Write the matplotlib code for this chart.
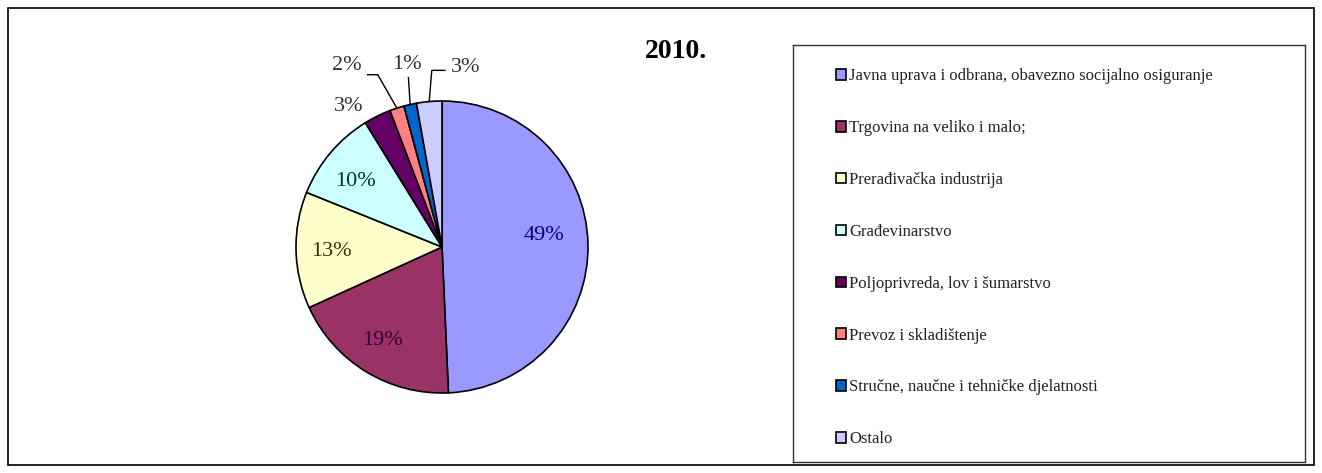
import numpy as np
import matplotlib
matplotlib.use('Agg')
from matplotlib import pyplot as plt
from matplotlib.patches import Rectangle

# Podaci
kategorije = ['Javna uprava i odbrana, obavezno socijalno osiguranje',
              'Trgovina na veliko i malo;',
              'Prerađivačka industrija',
              'Građevinarstvo',
              'Poljoprivreda, lov i šumarstvo',
              'Prevoz i skladištenje',
              'Stručne, naučne i tehničke djelatnosti',
              'Ostalo']
udjeli = [49.3, 18.9, 12.9, 10.1, 3.0, 1.6, 1.4, 2.8]
oznake = ['49%', '19%', '13%', '10%', '3%', '2%', '1%', '3%']
boje = ['#9999FF', '#993366', '#FFFFCC', '#CCFFFF', '#660066', '#FF8080', '#0066CC', '#CCCCFF']

plt.rcParams['font.family'] = ['Liberation Serif', 'DejaVu Serif']

W, H = 1322, 473
fig = plt.figure(figsize=(W / 100, H / 100), dpi=100)

# okvir oko cijele slike
fig.patches.append(Rectangle((8 / W, 8 / H), 1306 / W, 457 / H, transform=fig.transFigure,
                             fill=False, edgecolor='black', linewidth=1.2))

# pita
cx, cy, r = 442, 247, 146
ax = fig.add_axes([(cx - r) / W, (H - cy - r) / H, 2 * r / W, 2 * r / H])
wedges, _ = ax.pie(udjeli, colors=boje, startangle=90, counterclock=False,
                   wedgeprops=dict(edgecolor='black', linewidth=1.2))
ax.set_xlim(-1, 1)
ax.set_ylim(-1, 1)
ax.set_aspect('equal')
ax.axis('off')

# pozicije oznaka (u koordinatama pite)
poz = [(0.70, 0.08), (-0.41, -0.64), (-0.76, -0.03), (-0.59, 0.45),
       (-0.64, 0.96), (-0.65, 1.24), (-0.24, 1.25), (0.16, 1.23)]
boje_teksta = ['#000080', '#330033', '#333300', '#003333', '#333333', '#333333', '#333333', '#333333']
for (x, y), t, c in zip(poz, oznake, boje_teksta):
    ax.text(x, y, t, ha='center', va='center', fontsize=16, color=c, clip_on=False)

# linije za male udjele
vodice = {5: ([-0.51, -0.44], [1.18, 1.18]),
          6: ([-0.23], [1.16]),
          7: ([0.02, -0.07], [1.21, 1.21])}
for i, (xs, ys) in vodice.items():
    w = wedges[i]
    ang = np.deg2rad((w.theta1 + w.theta2) / 2)
    ax.plot(xs + [np.cos(ang)], ys + [np.sin(ang)], color='black', linewidth=1.0, clip_on=False)

# naslov
fig.text(676 / W, 1 - 52 / H, '2010.', ha='center', va='center', fontsize=20, fontweight='bold')

# legenda
lx0, ly0, lx1, ly1 = 793, 45, 1305, 462
ax_l = fig.add_axes([lx0 / W, (H - ly1) / H, (lx1 - lx0) / W, (ly1 - ly0) / H])
ax_l.set_xticks([])
ax_l.set_yticks([])
for s in ax_l.spines.values():
    s.set_linewidth(1.0)
    s.set_color('#333333')
ax_l.legend(wedges, kategorije, loc='upper left', bbox_to_anchor=(0.055, 0.98),
            frameon=False, fontsize=12, labelspacing=2.15, handlelength=0.6,
            handleheight=0.6, handletextpad=0.2, labelcolor='#222222')

fig.savefig('out.png', dpi=100)
